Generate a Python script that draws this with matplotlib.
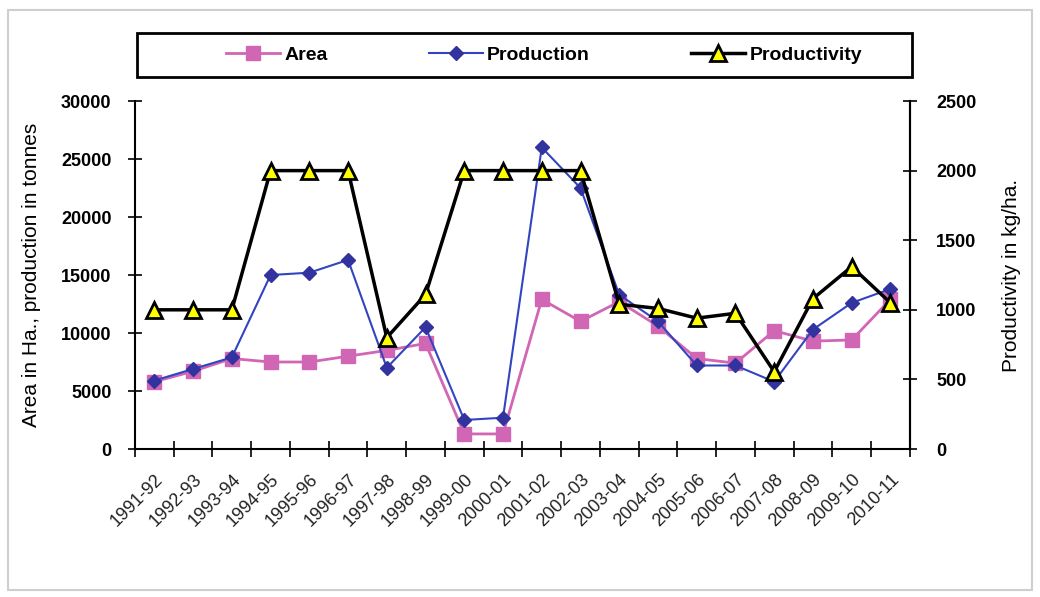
import matplotlib.pyplot as plt
import numpy as np
from matplotlib.patches import Rectangle
from matplotlib.ticker import FixedLocator

plt.rcParams['font.family'] = ['Liberation Sans', 'DejaVu Sans']

years = ['1991-92', '1992-93', '1993-94', '1994-95', '1995-96', '1996-97',
         '1997-98', '1998-99', '1999-00', '2000-01', '2001-02', '2002-03',
         '2003-04', '2004-05', '2005-06', '2006-07', '2007-08', '2008-09',
         '2009-10', '2010-11']

# area in ha
area = [5800, 6700, 7800, 7500, 7500, 8000, 8500, 9100, 1300, 1300,
        12900, 11000, 12700, 10600, 7800, 7400, 10200, 9300, 9400, 12900]
# production in tonnes
production = [5900, 6900, 7900, 15000, 15200, 16300, 7000, 10500, 2500, 2700,
              26000, 22500, 13300, 11000, 7200, 7200, 5800, 10300, 12600, 13800]
# productivity in kg/ha
productivity = [1000, 1000, 1000, 2000, 2000, 2000, 800, 1110, 2000, 2000,
                2000, 2000, 1040, 1010, 940, 975, 555, 1080, 1310, 1050]

x = np.arange(len(years))

fig = plt.figure(figsize=(10.4, 5.97), dpi=100)
ax = fig.add_axes([0.1298, 0.2479, 0.745, 0.5829])
ax2 = ax.twinx()

# light outer frame like the original screenshot
fig.patches.append(Rectangle((0.008, 0.012), 0.984, 0.972, transform=fig.transFigure,
                             fill=False, edgecolor='#cfcfcf', lw=1.5))
# legend box
fig.patches.append(Rectangle((0.132, 0.871), 0.745, 0.074, transform=fig.transFigure,
                             fill=False, edgecolor='black', lw=2))

l1, = ax.plot(x, area, color='#d066b4', lw=2, marker='s', markersize=10,
              markerfacecolor='#d066b4', markeredgecolor='#d066b4', label='Area')
l2, = ax.plot(x, production, color='#3344c0', lw=1.5, marker='D', markersize=7.5,
              markerfacecolor='#3333a0', markeredgecolor='#3333a0', label='Production')
l3, = ax2.plot(x, productivity, color='black', lw=2.5, marker='^', markersize=11,
               markerfacecolor='#ffff00', markeredgecolor='black', markeredgewidth=2,
               label='Productivity')

ax.set_xlim(-0.5, len(years) - 0.5)
ax.set_ylim(0, 30000)
ax2.set_ylim(0, 2500)
ax.set_yticks(np.arange(0, 30001, 5000))
ax2.set_yticks(np.arange(0, 2501, 500))

ax.set_xticks(x)
ax.set_xticklabels(years, rotation=45, ha='right', rotation_mode='anchor',
                   fontsize=13, color='#222222')
ax.xaxis.set_minor_locator(FixedLocator(np.arange(-0.5, len(years), 1.0)))
ax.tick_params(axis='x', which='major', length=0, pad=16)
ax.tick_params(axis='x', which='minor', direction='inout', length=12, width=1.2)
ax.tick_params(axis='y', direction='inout', length=10, width=1.2, pad=12)
ax2.tick_params(axis='y', direction='inout', length=10, width=1.2, pad=14)

for lab in ax.get_yticklabels() + ax2.get_yticklabels():
    lab.set_fontweight('bold')
    lab.set_fontsize(13)

for a in (ax, ax2):
    a.spines['top'].set_visible(False)
    for s in ('left', 'right', 'bottom'):
        a.spines[s].set_linewidth(1.5)
ax2.spines['left'].set_visible(False)
ax2.spines['bottom'].set_visible(False)

ax.set_ylabel('Area in Ha., production in tonnes', fontsize=15, labelpad=14)
ax2.set_ylabel('Productivity in kg/ha.', fontsize=15, labelpad=18)

leg = fig.legend(handles=[l1, l2, l3], loc='center',
                 bbox_to_anchor=(0.523, 0.908), ncol=3, frameon=False,
                 prop={'weight': 'bold', 'size': 14}, handlelength=2.8,
                 handletextpad=0.2, columnspacing=5.2)

fig.savefig('out.png', dpi=100)
